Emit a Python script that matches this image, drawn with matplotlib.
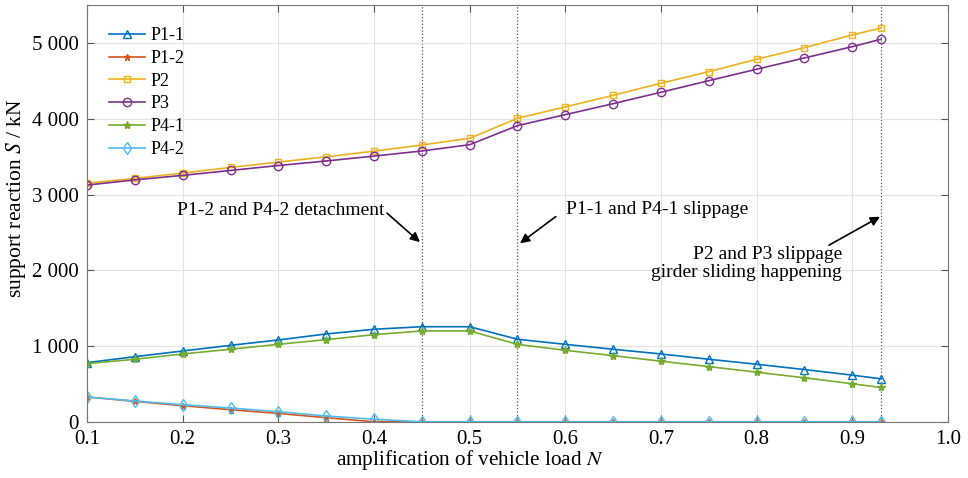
import matplotlib.pyplot as plt
import numpy as np

plt.rcParams['font.family'] = ['Liberation Serif', 'DejaVu Serif']
plt.rcParams['mathtext.fontset'] = 'stix'

N = [0.1, 0.15, 0.2, 0.25, 0.3, 0.35, 0.4, 0.45, 0.5, 0.55, 0.6, 0.65, 0.7, 0.75, 0.8, 0.85, 0.9, 0.93]
p1_1 = [781, 860, 935, 1010, 1081, 1160, 1222, 1256, 1256, 1090, 1023, 958, 896, 826, 760, 690, 616, 567]
p1_2 = [328, 270, 212, 160, 110, 55, 0, 0, 0, 0, 0, 0, 0, 0, 0, 0, 0, 0]
p2 = [3153, 3215, 3285, 3360, 3430, 3500, 3575, 3656, 3745, 4009, 4159, 4313, 4472, 4625, 4789, 4942, 5110, 5202]
p3 = [3127, 3195, 3255, 3320, 3385, 3445, 3510, 3577, 3660, 3912, 4057, 4202, 4353, 4506, 4657, 4806, 4955, 5053]
p4_1 = [768, 826, 896, 958, 1023, 1085, 1151, 1200, 1200, 1023, 944, 874, 800, 729, 655, 581, 502, 453]
p4_2 = [328, 275, 226, 182, 133, 77, 33, 0, 0, 0, 0, 0, 0, 0, 0, 0, 0, 0]
events = [0.45, 0.55, 0.93]

fig = plt.figure(figsize=(9.68, 4.78), dpi=100)
ax = fig.add_axes([0.0899, 0.1176, 0.8894, 0.8711])

ax.plot(N, p1_1, color='#0072BD', marker='^', mfc='none', ms=6, lw=1.2, label='P1-1')
ax.plot(N, p1_2, color='#D95319', marker='*', ms=5, lw=1.2, label='P1-2')
ax.plot(N, p2, color='#EDB120', marker='s', mfc='none', ms=5, lw=1.2, label='P2')
ax.plot(N, p3, color='#7E2F8E', marker='o', mfc='none', ms=6, lw=1.2, label='P3')
ax.plot(N, p4_1, color='#77AC30', marker='*', ms=6, lw=1.2, label='P4-1')
ax.plot(N, p4_2, color='#4DBEEE', marker='d', mfc='none', ms=6, lw=1.2, label='P4-2')

for e in events:
    ax.axvline(e, color='#555555', ls=':', lw=0.9, zorder=0)

ax.set_xlim(0.1, 1.0)
ax.set_ylim(0, 5500)
ax.set_xticks(np.arange(0.1, 1.01, 0.1))
ax.set_xticklabels(['0.1', '0.2', '0.3', '0.4', '0.5', '0.6', '0.7', '0.8', '0.9', '1.0'])
ax.set_yticks([0, 1000, 2000, 3000, 4000, 5000])
ax.set_yticklabels(['0', '1 000', '2 000', '3 000', '4 000', '5 000'])
ax.grid(True, color='#e3e3e3', lw=0.8)
ax.set_axisbelow(True)
ax.tick_params(direction='in', top=True, right=True, labelsize=15, length=5, color='#555555', pad=6)
for s in ax.spines.values():
    s.set_color('#777777')

ax.set_xlabel('amplification of vehicle load $N$', fontsize=15.3, labelpad=0)
ax.xaxis.set_label_coords(0.445, -0.062)
ax.set_ylabel('support reaction $S$ / kN', fontsize=15.5)
ax.yaxis.set_label_coords(-0.068, 0.537)

arrow = dict(arrowstyle='-|>', color='black', lw=1.2, shrinkA=0, shrinkB=0, mutation_scale=14)

ax.text(0.302, 2785, 'P1-2 and P4-2 detachment', ha='center', va='center', fontsize=14)
ax.annotate('', xy=(0.448, 2373), xytext=(0.4136, 2756), arrowprops=arrow)

ax.text(0.696, 2798, 'P1-1 and P4-1 slippage', ha='center', va='center', fontsize=14)
ax.annotate('', xy=(0.5526, 2358), xytext=(0.590, 2710), arrowprops=arrow)

ax.text(0.889, 2090, 'P2 and P3 slippage\ngirder sliding happening', ha='right', va='center',
        multialignment='right', fontsize=14, linespacing=1.1)
ax.annotate('', xy=(0.929, 2709), xytext=(0.8756, 2333), arrowprops=arrow)

ax.legend(loc='upper left', frameon=False, fontsize=13, handlelength=2.0,
          borderaxespad=0.6, labelspacing=0.32, handletextpad=0.3, borderpad=0.6)

fig.savefig('out.png', dpi=100)
